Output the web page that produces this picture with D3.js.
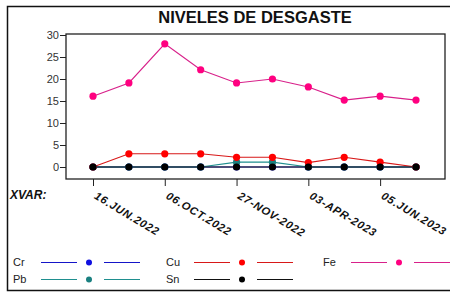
<!DOCTYPE html>
<html><head><meta charset="utf-8">
<script src="https://cdn.jsdelivr.net/npm/d3@7"></script>
<style>body{margin:0;background:#fff;}svg{display:block;font-family:"Liberation Sans",Arial,sans-serif;}</style>
</head><body>
<svg id="c" width="450" height="293"></svg>
<script>
const samples = [1,2,3,4,5,6,7,8,9,10];
const tickIdx = [1,3,5,7,9];
const tickLabels = ["16.JUN.2022","06.OCT.2022","27-NOV-2022","03-APR-2023","05.JUN.2023"];
const yTicks = [0,5,10,15,20,25,30];
const Fe = [16.1,19.1,28.0,22.1,19.1,20.0,18.2,15.2,16.1,15.2];
const Cu = [0,3.0,3.0,3.0,2.2,2.2,1.0,2.2,1.1,0];
const Pb = [0,0,0,0,1.1,1.1,0,0,0,0];
const Cr = [0,0,0,0,0,0,0,0,0,0];
const Sn = [0,0,0,0,0,0,0,0,0,0];
const seriesNames = ["Cr","Pb","Cu","Sn","Fe"];
const seriesData = {Cr, Pb, Cu, Sn, Fe};
const lineColors = {Cr:"#1515c8",Pb:"#1f8f8f",Cu:"#d81818",Sn:"#111111",Fe:"#d8208a"};
const dotColors = {Cr:"#1010e0",Pb:"#1a8080",Cu:"#ff0000",Sn:"#000000",Fe:"#ff0080"};

const svg = d3.select("#c");
svg.append("rect").attr("x",7.5).attr("y",6.5).attr("width",450).attr("height",284)
  .attr("fill","none").attr("stroke","#111").attr("stroke-width",1.5);

svg.append("text").attr("x",255).attr("y",23).attr("text-anchor","middle")
  .attr("font-weight","bold").attr("font-size",16.5).attr("fill","#111").text("NIVELES DE DESGASTE");

const x = d3.scalePoint().domain(samples).range([93,416]);
const y = d3.scaleLinear().domain([0,30]).range([167,35]);
const L=66, R=445, T=34, B=179;

svg.append("rect").attr("x",L).attr("y",T).attr("width",R-L).attr("height",B-T)
  .attr("fill","none").attr("stroke","#222").attr("stroke-width",1.3);

const ya = svg.append("g").attr("transform",`translate(${L},0)`)
  .call(d3.axisLeft(y).tickValues(yTicks).tickSize(6).tickPadding(1));
ya.select(".domain").remove();
ya.selectAll("line").attr("stroke","#222");
ya.selectAll("text").attr("font-size",11).attr("fill","#333").attr("font-family","Liberation Sans, Arial");

const xa = svg.append("g").attr("transform",`translate(0,${B})`)
  .call(d3.axisBottom(x).tickValues(tickIdx).tickSize(7).tickFormat((d,i)=>tickLabels[i]));
xa.select(".domain").remove();
xa.selectAll("line").attr("stroke","#222");
xa.selectAll("text").attr("font-size",11).attr("font-weight","bold").attr("font-style","italic")
  .attr("letter-spacing",0.8)
  .attr("fill","#111").attr("text-anchor","start").attr("font-family","Liberation Sans, Arial")
  .attr("x",0).attr("y",0).attr("dy",0)
  .attr("transform","translate(0,19) rotate(31)");

svg.append("text").attr("x",10).attr("y",199).attr("font-size",12).attr("font-weight","bold")
  .attr("font-style","italic").attr("fill","#111").text("XVAR:");

const line = d3.line().x((d,i)=>x(samples[i])).y(d=>y(d));
seriesNames.forEach(n=>{
  const data = seriesData[n];
  svg.append("path").datum(data).attr("d",line).attr("fill","none")
    .attr("stroke",lineColors[n]).attr("stroke-width",1.1);
});
seriesNames.forEach(n=>{
  svg.append("g").selectAll("circle").data(seriesData[n]).join("circle")
    .attr("cx",(d,i)=>x(samples[i])).attr("cy",d=>y(d)).attr("r",3.6).attr("fill",dotColors[n]);
});

const legend = [
  {n:"Cr",col:0,row:0},{n:"Cu",col:1,row:0},{n:"Fe",col:2,row:0},
  {n:"Pb",col:0,row:1},{n:"Sn",col:1,row:1}
];
const colX=[13,166,323], rowY=[262,279];
legend.forEach(l=>{
  const g = svg.append("g").attr("transform",`translate(${colX[l.col]},${rowY[l.row]})`);
  g.append("text").attr("x",0).attr("y",4).attr("font-size",11).attr("fill","#222").text(l.n);
  g.append("line").attr("x1",28).attr("x2",64).attr("y1",0.5).attr("y2",0.5).attr("stroke",lineColors[l.n]).attr("stroke-width",1);
  g.append("circle").attr("cx",76).attr("cy",0.5).attr("r",3).attr("fill",dotColors[l.n]);
  g.append("line").attr("x1",91).attr("x2",127).attr("y1",0.5).attr("y2",0.5).attr("stroke",lineColors[l.n]).attr("stroke-width",1);
});
</script>
</body></html>
